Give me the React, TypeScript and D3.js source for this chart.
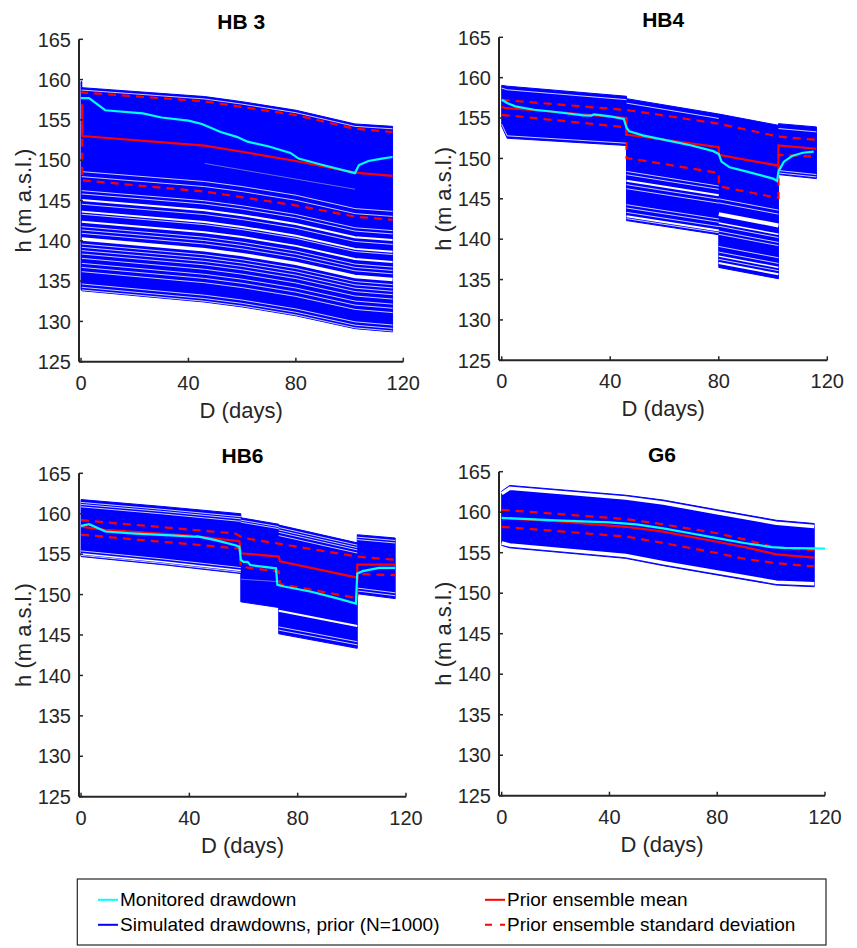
import React from "react";
import * as d3 from "d3";

// ---------------- shared axis data ----------------
const xTickValues = [0, 40, 80, 120];
const yTickValues = [125, 130, 135, 140, 145, 150, 155, 160, 165];
const panelTitles = ["HB 3", "HB4", "HB6", "G6"];
const xLabel = "D (days)";
const yLabel = "h (m a.s.l.)";
const legendLabels = [
  "Monitored drawdown",
  "Simulated drawdowns, prior (N=1000)",
  "Prior ensemble mean",
  "Prior ensemble standard deviation",
];

// ---------------- HB 3 ----------------
const hb3MonDays = [0, 3, 9, 23, 30, 40, 45, 52, 58, 62, 70, 78, 81, 90, 102, 103.5, 107, 112, 116];
const hb3MonHeads = [157.7, 157.7, 156.2, 155.8, 155.3, 154.9, 154.5, 153.5, 152.9, 152.3, 151.7, 150.9, 150.2, 149.4, 148.4, 149.4, 149.9, 150.2, 150.4];
const hb3MeanDays = [0, 0.4, 0.5, 46, 60, 80, 102, 116];
const hb3MeanHeads = [156.8, 156.8, 153.0, 151.8, 151.05, 149.9, 148.45, 148.05];
const hb3SdUpDays = [0, 0.4, 46, 80, 102, 116];
const hb3SdUpHeads = [158.6, 158.4, 157.3, 155.6, 153.9, 153.5];
const hb3SdLoDays = [0, 0.4, 0.5, 46, 80, 102, 116];
const hb3SdLoHeads = [156.0, 156.0, 147.5, 146.1, 144.4, 143.0, 142.6];
const hb3SpikeDays = [0, 0.3];
const hb3SpikeUpper = [159.75, 159.75];
const hb3SpikeLower = [133.9, 133.9];
const hb3EnsDays = [0.3, 46, 60, 80, 102, 116];
const hb3EnsUpper = [159.0, 157.9, 157.26, 156.2, 154.5, 154.2];
const hb3EnsLower = [133.8, 132.4, 131.8, 130.7, 129.1, 128.7];
const hb3GapHeads = [158.7, 148.58, 147.96, 146.22, 145.81, 145.06, 144.53, 143.62, 143.29, 142.37, 141.75, 141.34, 140.92, 140.22, 139.6, 139.19, 138.78, 138.36, 137.82, 137.2, 136.7, 136.17, 134.64, 134.23, 133.9];
const hb3GapWidths = [1, 1, 1, 1, 1, 2, 1, 2, 1, 2, 1, 1, 1, 3.5, 1, 1, 1, 1, 1, 1, 1, 1, 1, 1, 1];
const hb3FaintDays = [46, 102];
const hb3FaintHeads = [149.6, 146.4];

// ---------------- HB4 ----------------
const hb4MonDays = [0, 2, 5, 12, 20, 30, 33, 34, 40, 45, 46, 47, 52, 60, 70, 78, 80, 81, 84, 90, 100, 101.5, 102, 104, 107, 111, 115];
const hb4MonHeads = [157.27, 156.86, 156.45, 156.03, 155.75, 155.33, 155.3, 155.45, 155.2, 154.9, 153.8, 153.36, 152.86, 152.3, 151.6, 150.9, 150.55, 149.6, 148.9, 148.4, 147.5, 147.2, 148.4, 149.6, 150.3, 150.7, 150.85];
const hb4MeanDays = [0, 1, 20, 46, 46, 80, 80, 102, 102, 116];
const hb4MeanHeads = [156.4, 156.25, 155.75, 155.0, 152.95, 151.4, 150.45, 149.1, 151.6, 151.2];
const hb4SdUpDays = [0, 46, 80, 102, 116];
const hb4SdUpHeads = [157.25, 156.0, 154.3, 152.7, 152.3];
const hb4SdLoDays = [0, 46, 46, 80, 80, 102, 102, 114];
const hb4SdLoHeads = [155.4, 153.85, 150.05, 148.2, 146.55, 145.1, 150.45, 150.25];
const hb4S0Days = [0, 2, 46];
const hb4S0Upper = [159.05, 158.95, 157.7];
const hb4S0Lower = [154.0, 152.5, 151.6];
const hb4S0GapHeads = [158.5, 152.8];
const hb4S0GapWidths = [1, 1];
const hb4S1Days = [46, 80];
const hb4S1Upper = [157.4, 155.5];
const hb4S1Lower = [142.3, 140.55];
const hb4S1GapHeads = [156.85, 148.39, 147.98, 147.24, 146.75, 146.25, 144.27, 143.86, 143.32, 142.83, 142.55];
const hb4S1GapWidths = [1, 1, 1, 2, 1, 1, 1, 1, 1, 2, 1];
const hb4S2Days = [80, 102];
const hb4S2Upper = [155.5, 154.1];
const hb4S2Lower = [136.5, 135.1];
const hb4S2GapHeads = [145.0, 144.5, 143.1, 142.0, 141.6, 141.0, 140.6, 139.1, 138.4, 137.9, 137.5, 137.05];
const hb4S2GapWidths = [1, 1, 4, 1.5, 1, 1, 1, 1, 1, 1.5, 1, 2];
const hb4S3Days = [102, 116];
const hb4S3Upper = [154.3, 153.9];
const hb4S3Lower = [148.0, 147.5];
const hb4S3GapHeads = [153.7, 148.5, 148.2];
const hb4S3GapWidths = [1, 1, 1];

// ---------------- HB6 ----------------
const hb6MonDays = [0, 3, 9, 20, 35, 42, 43, 50, 57, 58.5, 59, 60, 61.5, 62.5, 72, 72.5, 75, 85, 95, 101.5, 102, 104, 110, 116];
const hb6MonHeads = [158.5, 158.7, 157.8, 157.55, 157.3, 157.15, 157.2, 156.7, 156.1, 155.9, 154.3, 154.05, 154.05, 153.65, 153.25, 151.2, 151.0, 150.35, 149.5, 148.9, 152.6, 152.9, 153.3, 153.3];
const hb6MeanDays = [0, 9, 40, 58.5, 59, 73, 73.5, 102, 102, 116];
const hb6MeanHeads = [158.4, 158.0, 157.3, 156.6, 155.1, 154.7, 154.1, 152.1, 153.7, 153.7];
const hb6SdUpDays = [0, 57, 60, 73, 102, 116];
const hb6SdUpHeads = [159.2, 157.55, 157.0, 156.3, 154.7, 154.3];
const hb6SdLoDays = [0, 58.5, 59, 73, 73.5, 102, 102, 116];
const hb6SdLoHeads = [157.4, 155.7, 153.45, 152.85, 151.3, 149.55, 152.55, 152.4];
const hb6S0Days = [0, 30, 59];
const hb6S0Upper = [161.75, 160.9, 160.0];
const hb6S0Lower = [154.7, 153.7, 152.6];
const hb6S0GapHeads = [161.4, 161.15, 160.85, 155.4, 155.05, 154.85];
const hb6S0GapWidths = [1, 1, 1, 1, 1.5, 1];
const hb6S1Days = [59, 73];
const hb6S1Upper = [159.5, 158.7];
const hb6S1Lower = [149.1, 148.4];
const hb6S1GapHeads = [159.2, 158.95];
const hb6S1GapWidths = [1, 1];
const hb6S2Days = [73, 102];
const hb6S2Upper = [158.6, 156.4];
const hb6S2Lower = [145.15, 143.35];
const hb6S2GapHeads = [158.3, 158.0, 157.7, 157.3, 148.0, 146.0, 145.6];
const hb6S2GapWidths = [1, 1, 1, 1, 2, 1, 1];
const hb6S3Days = [102, 116];
const hb6S3Upper = [157.4, 157.0];
const hb6S3Lower = [150.1, 149.5];
const hb6S3GapHeads = [157.1, 156.8, 150.8, 150.45];
const hb6S3GapWidths = [1, 1, 1, 1];
const hb6FaintDays = [59, 73];
const hb6FaintHeads = [151.9, 151.6];

// ---------------- G6 ----------------
const g6MonDays = [0, 20, 40, 50, 60, 70, 80, 90, 100, 105, 120];
const g6MonHeads = [159.3, 159.0, 158.75, 158.5, 158.0, 157.4, 156.8, 156.2, 155.7, 155.6, 155.5];
const g6MeanDays = [0, 20, 46, 60, 80, 90, 102, 116];
const g6MeanHeads = [159.25, 158.9, 158.2, 157.6, 156.35, 155.7, 154.8, 154.4];
const g6SdUpDays = [0, 46, 60, 80, 90, 102, 116];
const g6SdUpHeads = [160.3, 159.15, 158.5, 157.4, 156.65, 155.6, 155.3];
const g6SdLoDays = [0, 46, 60, 80, 90, 102, 116];
const g6SdLoHeads = [158.2, 157.0, 156.2, 154.95, 154.25, 153.7, 153.3];
const g6EnsDays = [0, 3, 46, 60, 80, 102, 116];
const g6EnsUpper = [162.6, 163.3, 162.1, 161.5, 160.3, 159.0, 158.6];
const g6EnsLower = [155.9, 155.6, 154.3, 153.4, 152.25, 151.0, 150.8];
const g6GapHeads = [162.95, 155.95];
const g6GapWidths = [3.5, 3.5];

// ---------------- helpers ----------------
type Pt = [number, number];
const zip = (a: number[], b: number[]): Pt[] => a.map((d, i) => [d, b[i]]);

interface Seg {
  days: number[];
  upper: number[];
  lower: number[];
  gapHeads: number[];
  gapWidths: number[];
  gapRef: number;
}
const seg = (days: number[], upper: number[], lower: number[], gapHeads: number[] = [], gapWidths: number[] = [], gapRef = 0): Seg => ({
  days, upper, lower, gapHeads, gapWidths, gapRef,
});

interface PanelDef {
  title: string;
  l: number; r: number; t: number; b: number; xMin: number;
  mon: Pt[]; mean: Pt[]; sdUp: Pt[]; sdLo: Pt[];
  segs: Seg[];
  faint: Pt[][];
}

const panels: PanelDef[] = [
  {
    title: panelTitles[0], l: 79, r: 403.3, t: 39.3, b: 361.7, xMin: -0.75,
    mon: zip(hb3MonDays, hb3MonHeads), mean: zip(hb3MeanDays, hb3MeanHeads),
    sdUp: zip(hb3SdUpDays, hb3SdUpHeads), sdLo: zip(hb3SdLoDays, hb3SdLoHeads),
    segs: [
      seg(hb3SpikeDays, hb3SpikeUpper, hb3SpikeLower),
      seg(hb3EnsDays, hb3EnsUpper, hb3EnsLower, hb3GapHeads, hb3GapWidths),
    ],
    faint: [zip(hb3FaintDays, hb3FaintHeads)],
  },
  {
    title: panelTitles[1], l: 499, r: 827.3, t: 37.3, b: 360.3, xMin: -1,
    mon: zip(hb4MonDays, hb4MonHeads), mean: zip(hb4MeanDays, hb4MeanHeads),
    sdUp: zip(hb4SdUpDays, hb4SdUpHeads), sdLo: zip(hb4SdLoDays, hb4SdLoHeads),
    segs: [
      seg(hb4S0Days, hb4S0Upper, hb4S0Lower, hb4S0GapHeads, hb4S0GapWidths, 1),
      seg(hb4S1Days, hb4S1Upper, hb4S1Lower, hb4S1GapHeads, hb4S1GapWidths),
      seg(hb4S2Days, hb4S2Upper, hb4S2Lower, hb4S2GapHeads, hb4S2GapWidths),
      seg(hb4S3Days, hb4S3Upper, hb4S3Lower, hb4S3GapHeads, hb4S3GapWidths),
    ],
    faint: [],
  },
  {
    title: panelTitles[2], l: 79, r: 406, t: 473.3, b: 796.7, xMin: -0.75,
    mon: zip(hb6MonDays, hb6MonHeads), mean: zip(hb6MeanDays, hb6MeanHeads),
    sdUp: zip(hb6SdUpDays, hb6SdUpHeads), sdLo: zip(hb6SdLoDays, hb6SdLoHeads),
    segs: [
      seg(hb6S0Days, hb6S0Upper, hb6S0Lower, hb6S0GapHeads, hb6S0GapWidths),
      seg(hb6S1Days, hb6S1Upper, hb6S1Lower, hb6S1GapHeads, hb6S1GapWidths),
      seg(hb6S2Days, hb6S2Upper, hb6S2Lower, hb6S2GapHeads, hb6S2GapWidths),
      seg(hb6S3Days, hb6S3Upper, hb6S3Lower, hb6S3GapHeads, hb6S3GapWidths),
    ],
    faint: [zip(hb6FaintDays, hb6FaintHeads)],
  },
  {
    title: panelTitles[3], l: 499, r: 825, t: 471.7, b: 795.7, xMin: -1,
    mon: zip(g6MonDays, g6MonHeads), mean: zip(g6MeanDays, g6MeanHeads),
    sdUp: zip(g6SdUpDays, g6SdUpHeads), sdLo: zip(g6SdLoDays, g6SdLoHeads),
    segs: [seg(g6EnsDays, g6EnsUpper, g6EnsLower, g6GapHeads, g6GapWidths, 1)],
    faint: [],
  },
];

const FONT = "'Liberation Sans', Arial, Helvetica, sans-serif";
const AX = "#262626";
const BLUE = "#0000ff";
const RED = "#ff0000";
const CYAN = "#00ffff";

function gapPath(s: Seg, h: number): Pt[] {
  const k = s.gapRef;
  const f = (s.upper[k] - h) / (s.upper[k] - s.lower[k]);
  return s.days.map((d, j) => [d, s.upper[j] - f * (s.upper[j] - s.lower[j])] as Pt);
}

function Panel({ p }: { p: PanelDef }) {
  const x = d3.scaleLinear().domain([p.xMin, 120]).range([p.l, p.r]);
  const y = d3.scaleLinear().domain([125, 165]).range([p.b, p.t]);
  const line = d3.line<Pt>().x((d) => x(d[0])).y((d) => y(d[1]));
  const area = d3
    .area<[number, number, number]>()
    .x((d) => x(d[0]))
    .y0((d) => y(d[2]))
    .y1((d) => y(d[1]));
  const cx = (p.l + p.r) / 2;
  const cy = (p.t + p.b) / 2;
  return (
    <g>
      {p.segs.map((s, i) => (
        <path
          key={"a" + i}
          d={area(s.days.map((d, j) => [d, s.upper[j], s.lower[j]] as [number, number, number])) || ""}
          fill={BLUE}
          stroke={BLUE}
          strokeWidth={1}
        />
      ))}
      {p.segs.map((s, i) =>
        s.gapHeads.map((h, j) => {
          const w = s.gapWidths[j];
          return (
            <path
              key={"g" + i + "_" + j}
              d={line(gapPath(s, h)) || ""}
              fill="none"
              stroke="#ffffff"
              strokeWidth={w}
              strokeOpacity={w <= 1 ? 0.8 : 1}
            />
          );
        })
      )}
      {p.faint.map((f, i) => (
        <path key={"f" + i} d={line(f) || ""} fill="none" stroke="#6a6ae0" strokeWidth={1} />
      ))}
      <path d={line(p.sdUp) || ""} fill="none" stroke={RED} strokeWidth={2.2} strokeDasharray="8,6" />
      <path d={line(p.sdLo) || ""} fill="none" stroke={RED} strokeWidth={2.2} strokeDasharray="8,6" />
      <path d={line(p.mean) || ""} fill="none" stroke={RED} strokeWidth={2.2} />
      <path d={line(p.mon) || ""} fill="none" stroke={CYAN} strokeWidth={2.2} />

      {/* axes */}
      <line x1={p.l} x2={p.l} y1={p.t} y2={p.b} stroke={AX} strokeWidth={2} />
      <line x1={p.l} x2={p.r} y1={p.b} y2={p.b} stroke={AX} strokeWidth={2} />
      {yTickValues.map((v) => (
        <g key={"yt" + v}>
          <line x1={p.l} x2={p.l + 4} y1={y(v)} y2={y(v)} stroke={AX} strokeWidth={1.5} />
          <text x={p.l - 8} y={y(v)} dy="0.36em" textAnchor="end" fontSize={20} fill={AX} fontFamily={FONT}>
            {v}
          </text>
        </g>
      ))}
      {xTickValues.map((v) => (
        <g key={"xt" + v}>
          <line x1={x(v)} x2={x(v)} y1={p.b} y2={p.b - 4} stroke={AX} strokeWidth={1.5} />
          <text x={x(v)} y={p.b + 28} textAnchor="middle" fontSize={20} fill={AX} fontFamily={FONT}>
            {v}
          </text>
        </g>
      ))}
      <text x={cx} y={p.b + 56} textAnchor="middle" fontSize={22} fill={AX} fontFamily={FONT}>
        {xLabel}
      </text>
      <text
        transform={`translate(${p.l - 48},${cy}) rotate(-90)`}
        textAnchor="middle"
        fontSize={22}
        fill={AX}
        fontFamily={FONT}
      >
        {yLabel}
      </text>
      <text x={cx} y={p.t - 10} textAnchor="middle" fontSize={21} fontWeight="bold" fill="#000" fontFamily={FONT}>
        {p.title}
      </text>
    </g>
  );
}

function Legend() {
  const r1 = 906.3;
  const r2 = 931.3;
  return (
    <g fontFamily={FONT} fontSize={19} fill="#000">
      <rect x={77.3} y={879} width={748.7} height={66} fill="#fff" stroke={AX} strokeWidth={1.2} />
      <line x1={98} x2={118} y1={r1 - 6.5} y2={r1 - 6.5} stroke={CYAN} strokeWidth={2} />
      <text x={120} y={r1}>{legendLabels[0]}</text>
      <line x1={98} x2={118} y1={r2 - 6.5} y2={r2 - 6.5} stroke={BLUE} strokeWidth={2} />
      <text x={120} y={r2}>{legendLabels[1]}</text>
      <line x1={485} x2={505} y1={r1 - 6.5} y2={r1 - 6.5} stroke={RED} strokeWidth={2} />
      <text x={507} y={r1}>{legendLabels[2]}</text>
      <line x1={485} x2={505} y1={r2 - 6.5} y2={r2 - 6.5} stroke={RED} strokeWidth={2} strokeDasharray="7,8" />
      <text x={507} y={r2}>{legendLabels[3]}</text>
    </g>
  );
}

export default function App() {
  return (
    <svg
      width={857}
      height={948}
      viewBox="0 0 857 948"
      style={{ position: "absolute", left: 0, top: 0, background: "#fff" }}
    >
      <rect width={857} height={948} fill="#fff" />
      {panels.map((p, i) => (
        <Panel key={i} p={p} />
      ))}
      <Legend />
    </svg>
  );
}
